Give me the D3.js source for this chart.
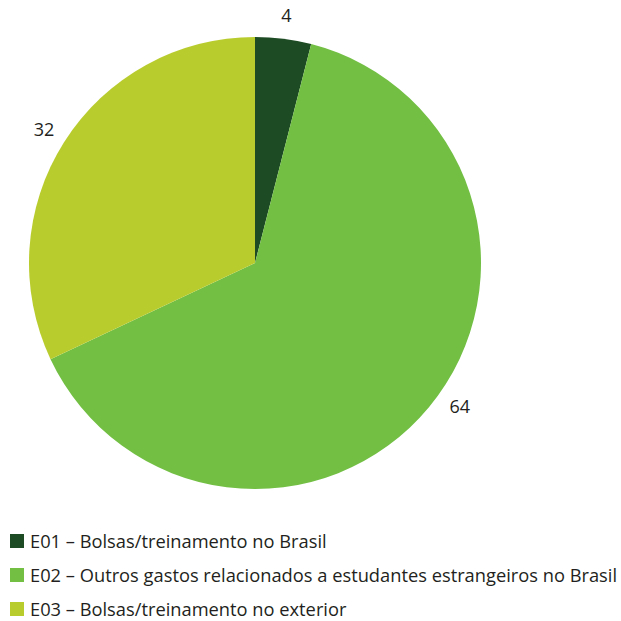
<!DOCTYPE html>
<html>
<head>
<meta charset="utf-8">
<script src="https://cdn.jsdelivr.net/npm/d3@7"></script>
<style>
  html, body { margin: 0; padding: 0; background: #fff; }
  svg { display: block; }
  text { font-family: "Open Sans", "Noto Sans", sans-serif; fill: #231f20; }
</style>
</head>
<body>
<div id="chart"></div>
<script>
// Shares by expense category (percent)
const categories = ["E01", "E02", "E03"];
const legendLabels = [
  "E01 – Bolsas/treinamento no Brasil",
  "E02 – Outros gastos relacionados a estudantes estrangeiros no Brasil",
  "E03 – Bolsas/treinamento no exterior"
];
const values = [4, 64, 32];
const colors = ["#1d4b23", "#72bf44", "#b9cc2e"];

const W = 621, H = 621;
const cx = 255, cy = 263, radius = 226;

const svg = d3.select("#chart").append("svg")
  .attr("width", W).attr("height", H);

const data = categories.map((c, i) => ({ cat: c, value: values[i], label: legendLabels[i], color: colors[i] }));

const pie = d3.pie().value(d => d.value).sort(null);
const arc = d3.arc().innerRadius(0).outerRadius(radius);

const g = svg.append("g").attr("transform", `translate(${cx},${cy})`);
const arcs = pie(data);

g.selectAll("path.slice").data(arcs).join("path")
  .attr("class", "slice")
  .attr("d", arc)
  .attr("fill", d => d.data.color);

// Value labels just outside each slice; the large slice's label is
// pulled a little toward its leading edge.
const labelR = 250;
function labelAngle(d) {
  const mid = (d.startAngle + d.endAngle) / 2;
  return d.data.value > 50 ? mid - 0.08 : mid;
}
g.selectAll("text.val").data(arcs).join("text")
  .attr("class", "val")
  .attr("x", d => Math.sin(labelAngle(d)) * labelR)
  .attr("y", d => -Math.cos(labelAngle(d)) * labelR)
  .attr("text-anchor", "middle")
  .attr("dominant-baseline", "central")
  .style("font-size", "18px")
  .text(d => d.data.value);

// Legend
const legend = svg.append("g").attr("transform", "translate(10,534)");
const row = legend.selectAll("g").data(data).join("g")
  .attr("transform", (d, i) => `translate(0,${i * 34})`);
row.append("rect")
  .attr("x", 0).attr("y", 0).attr("width", 14).attr("height", 14)
  .attr("fill", d => d.color);
row.append("text")
  .attr("x", 20).attr("y", 13.5)
  .style("font-size", "18.3px")
  .text(d => d.label);
</script>
</body>
</html>
